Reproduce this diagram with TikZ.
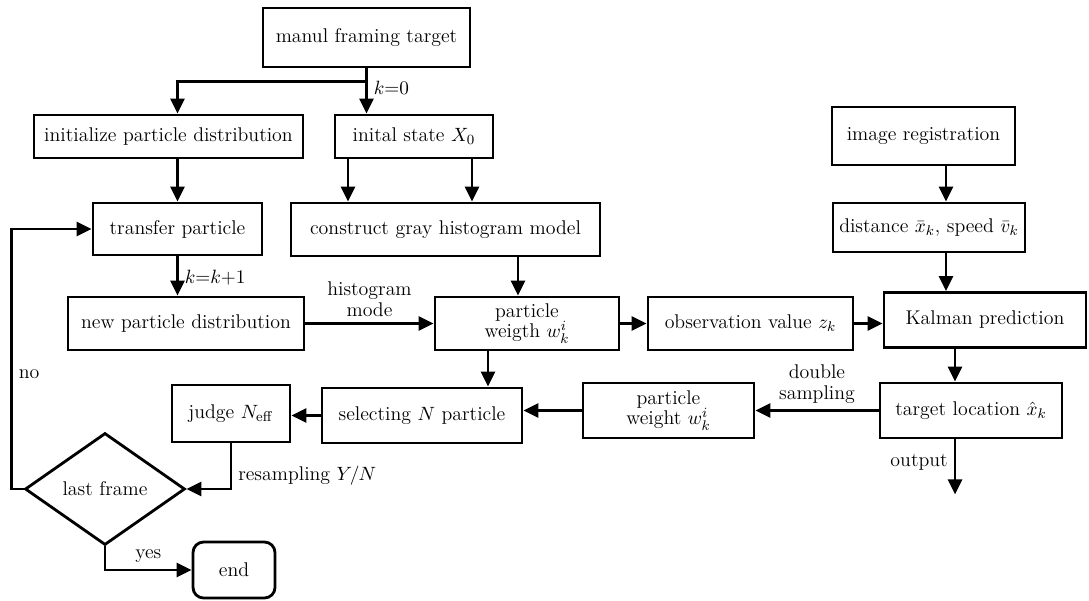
\documentclass[tikz,border=0pt]{standalone}
\usetikzlibrary{shapes.geometric}
\usetikzlibrary{arrows.meta}
\usetikzlibrary{calc}

\begin{document}
\begin{tikzpicture}[
    x=0.02cm,
    y=-0.02cm,
    line width=1.6pt,
    font=\fontsize{11.3}{11.8}\selectfont,
    block/.style={
        draw=black,
        minimum height=1.06cm,
        inner sep=2pt,
        align=center
    },
    decide/.style={
        draw=black,
        diamond,
        minimum width=3.2cm,
        minimum height=2.24cm,
        inner sep=0pt
    },
    terminal/.style={
        draw=black,
        rounded corners=6pt,
        minimum width=1.64cm,
        minimum height=1.12cm
    },
    flow/.style={
        -{Triangle[length=0.3cm,width=0.28cm]}
    }
]

    \useasboundingbox (0,0) rectangle (1089,600);

    % Left and middle column
    \node[block, minimum width=4.14cm, minimum height=1.18cm] (frame) at (366.5,37.5) {manul framing target};
    \node[block, minimum width=5.38cm, minimum height=0.86cm] (init) at (168.5,136.5) {initialize particle distribution};
    \node[block, minimum width=3.16cm, minimum height=0.86cm] (state) at (414,136.5) {inital state $X_0$};
    \node[block, minimum width=3.38cm, minimum height=1.04cm] (transfer) at (177.5,229) {transfer particle};
    \node[block, minimum width=6.18cm] (hist) at (445.5,229.5) {construct gray histogram model};
    \node[block, minimum width=4.72cm] (newdist) at (186,323.5) {new particle distribution};
    \node[block, minimum width=3.68cm] (weigth) at (527,323.5) {particle\\weigth $w_k^i$};
    \node[block, minimum width=4.10cm] (obs) at (750.5,323.5) {observation value $z_k$};

    % Right column
    \node[block, minimum width=3.66cm, minimum height=1.16cm] (reg) at (923.5,136) {image registration};
    \node[block, minimum width=3.84cm, minimum height=0.98cm] (dist) at (929,227.5) {distance $\bar{x}_k$, speed $\bar{v}_k$};
    \node[block, minimum width=4.04cm, minimum height=1.10cm] (kalman) at (985,320) {Kalman prediction};
    \node[block, minimum width=3.64cm, minimum height=1.10cm] (target) at (971,410.5) {target location $\hat{x}_k$};

    % Bottom row
    \node[block, minimum width=3.42cm, minimum height=1.10cm] (pweight) at (668.5,410.5) {particle\\weight $w_k^i$};
    \node[block, minimum width=4.00cm, minimum height=1.10cm] (select) at (422,415.5) {selecting $N$ particle};
    \node[block, minimum width=2.36cm, minimum height=1.14cm] (judge) at (231,413.5) {judge $N_{\mathrm{eff}}$};
    \node[decide] (last) at (105,489) {last frame};
    \node[terminal] (end) at (234,570) {end};

    % Helper points
    \coordinate (split) at ($(frame.south)+(0,13)$);
    \coordinate (sL) at ([xshift=-1.32cm]state.south);
    \coordinate (sR) at ([xshift=1.16cm]state.south);
    \coordinate (wIn) at ([xshift=-0.18cm]weigth.north);
    \coordinate (wOut) at ([xshift=-0.78cm]weigth.south);
    \coordinate (rOut) at ([xshift=0.45cm]reg.south);
    \coordinate (tIn) at ([xshift=-0.32cm]target.north);
    \coordinate (out) at ($(tIn |- target.south)+(0,55)$);

    % Connectors
    \draw[flow] (frame.south) -- (frame.south |- state.north) node[pos=0.42, right] {$k{=}0$};
    \draw[flow] (split) -| (transfer.north |- init.north);
    \draw[flow] (transfer.north |- init.south) -- (transfer.north);
    \draw[flow] (sL) -- (sL |- hist.north);
    \draw[flow] (sR) -- (sR |- hist.north);
    \draw[flow] (transfer.south) -- (transfer.south |- newdist.north) node[pos=0.55, right] {$k{=}k{+}1$};
    \draw[flow] (wIn |- hist.south) -- (wIn);
    \draw[flow] (newdist.east) -- (weigth.west) node[midway, above, align=center] {histogram\\mode};
    \draw[flow] (weigth.east) -- (obs.west);
    \draw[flow] (obs.east) -- (obs.east -| kalman.west);
    \draw[flow] (rOut) -- (rOut |- dist.north);
    \draw[flow] (rOut |- dist.south) -- (rOut |- kalman.north);
    \draw[flow] (tIn |- kalman.south) -- (tIn);
    \draw[flow] (tIn |- target.south) -- (out) node[pos=0.42, left] {output};
    \draw[flow] (target.west) -- (target.west -| pweight.east) node[midway, above, align=center] {double\\sampling};
    \draw[flow] (pweight.west) -- (pweight.west -| select.east);
    \draw[flow] (wOut) -- (wOut |- select.north);
    \draw[flow] (select.west) -- (select.west -| judge.east);
    \draw[flow] (judge.south) |- (last.east) node[pos=0.35, right] {resampling $Y/N$};
    \draw[flow] (last.west) -- ++(-12,0) |- (transfer.west) node[pos=0.22, right] {no};
    \draw[flow] (last.south) |- (end.west) node[pos=0.75, above] {yes};

\end{tikzpicture}
\end{document}
